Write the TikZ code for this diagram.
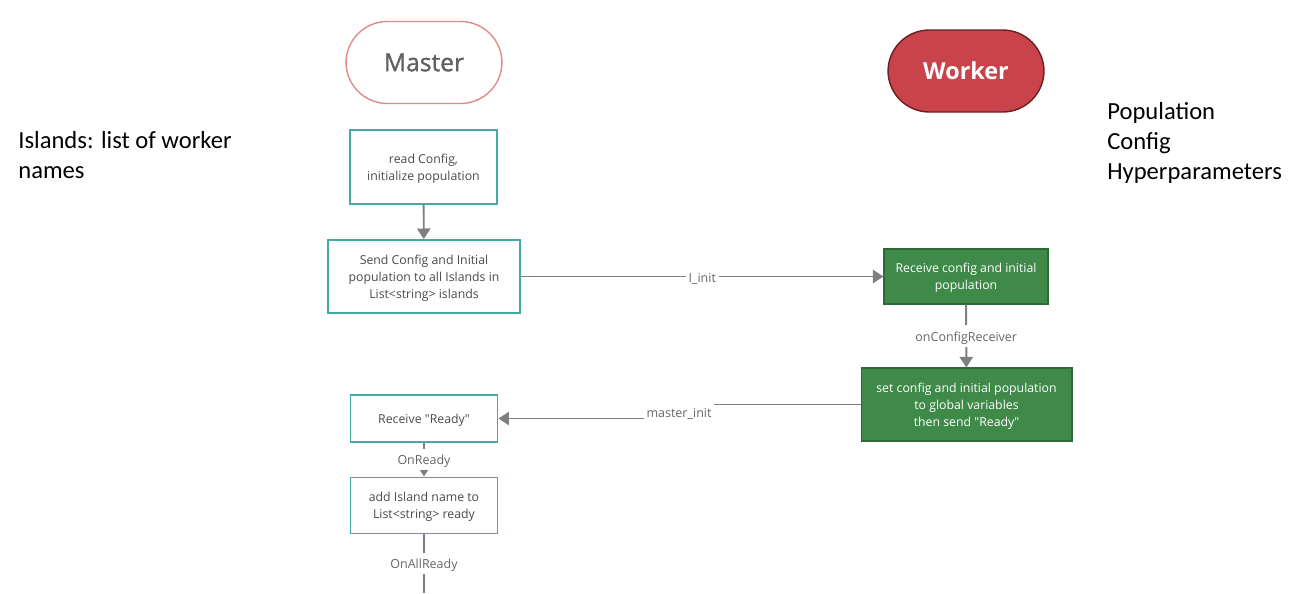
\documentclass[tikz,border=0pt]{standalone}
\usepackage{fontspec}
\setmainfont{Open Sans}
\newfontfamily\notefont{Carlito}
\newfontface\headfont{Open Sans}[FakeBold=1.2]
\usetikzlibrary{arrows.meta,positioning}

\definecolor{tealbox}{HTML}{45ABA8}
\definecolor{greenbox}{HTML}{3F8A48}
\definecolor{greenline}{HTML}{2D6A36}
\definecolor{redbox}{HTML}{C9434B}
\definecolor{redline}{HTML}{6E1E22}
\definecolor{pinkline}{HTML}{E08A8A}
\definecolor{flowgray}{HTML}{7F7F7F}
\definecolor{textgray}{HTML}{4A4A4A}

\tikzset{
    masterbox/.style={draw=tealbox,line width=1.1pt,fill=white,text=textgray,
        font=\fontsize{7}{9.6}\selectfont,align=center,inner sep=0pt,
        text depth=-4pt},
    workerbox/.style={draw=greenline,line width=0.6pt,fill=greenbox,text=white,
        font=\fontsize{7}{9.6}\selectfont,align=center,inner sep=0pt,
        text depth=-4pt},
    pill/.style={rounded corners=23.5pt,minimum width=3.12cm,minimum height=1.64cm,
        font=\fontsize{14}{16}\selectfont},
    notetext/.style={anchor=north west,align=left,inner sep=0pt,
        font=\notefont\fontsize{14}{17}\selectfont}
}

\begin{document}
\begin{tikzpicture}[x=0.02cm,y=-0.02cm]
        \useasboundingbox (0,0) rectangle (1312,593);

        % headers
        \node[pill,draw=pinkline,line width=0.8pt,text=black!62,font=\headfont\fontsize{14}{16}\selectfont] (master) at (424,62.5) {Master};
        \node[pill,draw=redline,line width=0.8pt,fill=redbox,text=white,font=\fontsize{13.3}{16}\selectfont\bfseries] (worker) at (966,71) {Worker};

        % notes
        \node[notetext] (islands) at (18,131) {Islands: list of worker\\names};
        \node[notetext] (params) at (1107,102) {Population\\Config\\Hyperparameters};

        \begin{scope}[every node/.style={masterbox}]
            \node[minimum width=2.94cm,minimum height=1.48cm] (read) at (423.5,167) {read Config,\\initialize population};
            \node[minimum width=3.84cm,minimum height=1.46cm] (send) at (424,276.5) {Send Config and Initial\\population to all Islands in\\List<string> islands};
            \node[minimum width=2.94cm,minimum height=0.94cm] (ready) at (424,418.5) {Receive \textquotedbl Ready\textquotedbl};
            \node[minimum width=2.94cm,minimum height=1.12cm] (add) at (424,505.5) {add Island name to\\List<string> ready};
        \end{scope}

        \begin{scope}[every node/.style={workerbox}]
            \node[minimum width=3.28cm,minimum height=1.10cm] (recv) at (966,276.5) {Receive config and initial\\population};
            \node[minimum width=4.22cm,minimum height=1.46cm] (setg) at (966.5,404.5) {set config and initial population\\to global variables\\then send \textquotedbl Ready\textquotedbl};
        \end{scope}

        \coordinate (down) at (424,593);

        \begin{scope}[>={Triangle[length=6pt,width=7.5pt]},
                    every node/.style={fill=white,text=black!60,inner sep=1.5pt,
                        font=\fontsize{7.1}{8}\selectfont,
                        execute at begin node={\rule{0pt}{7.5pt}}},
                    every edge/.style={draw=flowgray,line width=1.1pt}]
            \path [->] (read) edge (send);
            \path [->] (send) edge node {I\_init} (recv);
            \path [->] (recv) edge node {onConfigReceiver} (setg);
            \node (mi) at (679,412) {master\_init};
            \path [-] (setg.west) edge (mi.east |- setg.west);
            \path [->] (mi.west |- ready.east) edge (ready.east);
            \path [->] (ready) edge node {OnReady} (add);
            \path [-] (add) edge node {OnAllReady} (down);
        \end{scope}
    \end{tikzpicture}
\end{document}
